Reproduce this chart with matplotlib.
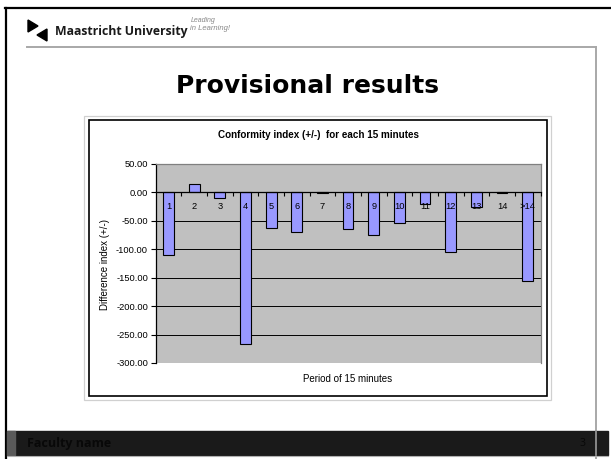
import matplotlib
matplotlib.use('Agg')
import matplotlib.pyplot as plt
from matplotlib.patches import Rectangle, Polygon

plt.rcParams['axes.unicode_minus'] = False
plt.rcParams['font.family'] = ['Liberation Sans', 'DejaVu Sans']

W, H = 611, 459

periods = ['1', '2', '3', '4', '5', '6', '7', '8', '9', '10', '11', '12', '13', '14', '>14']
index_values = [-110, 15, -9, -267, -62, -69, -1, -65, -74, -53, -20, -105, -25, -1, -155]
y_ticks = [50, 0, -50, -100, -150, -200, -250, -300]

slide_title = 'Provisional results'
chart_title = 'Conformity index (+/-)  for each 15 minutes'
x_label = 'Period of 15 minutes'
y_label = 'Difference index (+/-)'

fig = plt.figure(figsize=(W / 100, H / 100), dpi=100)
fig.patch.set_facecolor('white')

# slide background drawn in pixel coordinates
bg = fig.add_axes([0, 0, 1, 1])
bg.set_xlim(0, W)
bg.set_ylim(H, 0)
bg.axis('off')

bg.plot([5, W], [8, 8], color='black', lw=1.6)
bg.plot([6, 6], [8, H], color='black', lw=1.6)
bg.plot([27, 596], [47, 47], color='#a8a8a8', lw=1.4)
bg.plot([596, 596], [47, H], color='#a8a8a8', lw=1.4)

# footer bar
bg.add_patch(Rectangle((7, 431), 601, 24, color='#1a1a1a', zorder=3))
bg.add_patch(Rectangle((7, 431), 8, 24, color='#5a5a5a', zorder=3))
bg.plot([596, 596], [431, 455], color='#9a9a9a', lw=1.2, zorder=4)
bg.plot([7, 608], [455.5, 455.5], color='#b0b0b0', lw=0.8, zorder=4)
bg.text(27, 443.5, 'Faculty name', color='#080808', fontsize=9, fontweight='bold',
        family='Open Sans', va='center', ha='left', zorder=5)
bg.text(583, 443.5, '3', color='#080808', fontsize=7.5, family='Open Sans',
        va='center', ha='center', zorder=5)

# logo
bg.add_patch(Polygon([(28, 20), (28, 32), (38, 26)], closed=True, color='black'))
bg.add_patch(Polygon([(47, 29), (47, 41), (37, 35)], closed=True, color='black'))
bg.text(55, 31, 'Maastricht University', fontsize=8.8, fontweight='bold',
        family='Open Sans', color='#1a1a1a', va='center', ha='left')
bg.text(191, 20, 'Leading', fontsize=5, style='italic', color='#888888', va='center', ha='left')
bg.text(190, 29, 'in Learning!', fontsize=5.5, style='italic', color='#888888', va='center', ha='left')

bg.text(307.5, 86, slide_title, fontsize=18, fontweight='bold', family='DejaVu Sans',
        ha='center', va='center', color='black')

# chart box
bg.add_patch(Rectangle((84, 116), 467, 284, fill=False, edgecolor='#d0d0d0', lw=0.9))
bg.add_patch(Rectangle((89, 120), 458, 276, fill=False, edgecolor='black', lw=1.2))
bg.text(318, 135, chart_title, fontsize=7.1, fontweight='bold', ha='center', va='center')
bg.text(348, 379, x_label, fontsize=7, ha='center', va='center')
bg.text(105, 264, y_label, fontsize=7, ha='center', va='center', rotation=90)

# plot area
left, right, top, bottom = 155.7, 540.5, 164, 363
ax = fig.add_axes([left / W, 1 - bottom / H, (right - left) / W, (bottom - top) / H])
ax.set_facecolor('#c0c0c0')
x = list(range(len(periods)))
ax.bar(x, index_values, width=0.42, color='#9999ff', edgecolor='black', lw=0.8, zorder=1)

ax.set_xlim(-0.5, len(periods) - 0.5)
ax.set_ylim(min(y_ticks), max(y_ticks))
ax.set_yticks(y_ticks)
ax.set_yticklabels([f'{v:.2f}' for v in y_ticks])
ax.yaxis.grid(True, color='black', lw=0.7)
ax.yaxis.set_zorder(0.5)
ax.tick_params(axis='y', direction='out', length=3.5, width=0.8, pad=2, labelsize=6.7)

ax.set_xticks(x)
ax.set_xticklabels(periods)
ax.set_xticks([i + 0.5 for i in x], minor=True)
ax.tick_params(axis='x', which='major', length=0, pad=7, labelsize=6.7)
ax.tick_params(axis='x', which='minor', direction='out', length=3, width=0.8)
ax.xaxis.set_zorder(3)

ax.spines['bottom'].set_position(('data', 0))
ax.spines['bottom'].set_color('black')
ax.spines['bottom'].set_linewidth(0.9)
ax.spines['left'].set_color('black')
ax.spines['left'].set_linewidth(0.9)
for s in ['top', 'right']:
    ax.spines[s].set_color('#808080')
    ax.spines[s].set_linewidth(0.9)

fig.savefig('out.png', dpi=100)
